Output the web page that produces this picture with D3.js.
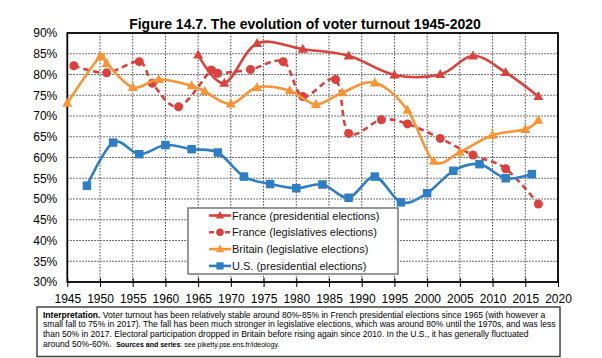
<!DOCTYPE html>
<html>
<head>
<meta charset="utf-8">
<script src="https://cdn.jsdelivr.net/npm/d3@7/dist/d3.min.js"></script>
<style>
  html, body { margin: 0; padding: 0; background: #fff; }
  svg { display: block; font-family: Arial, "Liberation Sans", sans-serif; }
</style>
</head>
<body>
<svg id="chart" width="602" height="358"></svg>
<script>
// ---- Data ----
const xTickLabels = [1945,1950,1955,1960,1965,1970,1975,1980,1985,1990,1995,2000,2005,2010,2015,2020];
const yTickLabels = [30,35,40,45,50,55,60,65,70,75,80,85,90];

const frPresYears = [1965,1969,1974,1981,1988,1995,2002,2007,2012,2017];
const frPresValues = [84.7,77.9,87.5,86.1,84.5,79.9,80.0,84.5,80.5,74.7];

const frLegYears = [1946,1951,1956,1958,1962,1967,1968,1973,1978,1981,1986,1988,1993,1997,2002,2007,2012,2017];
const frLegValues = [82.1,80.4,83.1,77.9,72.2,81.1,80.3,81.2,83.1,74.7,78.8,65.8,69.1,68.1,64.6,60.6,57.3,48.8];

const britYears = [1945,1950,1951,1955,1959,1964,1966,1970,1974,1979,1983,1987,1992,1997,2001,2005,2010,2015,2017];
const britValues = [73.1,84.3,82.7,76.9,78.8,77.3,75.9,72.9,76.9,76.1,72.8,75.6,78.0,71.4,59.1,61.3,65.4,66.8,69.0];

const usYears = [1948,1952,1956,1960,1964,1968,1972,1976,1980,1984,1988,1992,1996,2000,2004,2008,2012,2016];
const usValues = [53.2,63.6,60.8,63.0,62.0,61.2,55.4,53.6,52.6,53.5,50.3,55.4,49.2,51.4,56.8,58.4,55.0,56.0];

const seriesNames = ["France (presidential elections)","France (legislatives elections)","Britain (legislative elections)","U.S. (presidential elections)"];
const colors = ["#D8433E","#D8433E","#FA9436","#2F7EC2"];

const title = "Figure 14.7. The evolution of voter turnout 1945-2020";

// ---- Build ----
const series = [
  {name: seriesNames[0], years: frPresYears, values: frPresValues, color: colors[0], marker: "triangle", dash: null},
  {name: seriesNames[1], years: frLegYears, values: frLegValues, color: colors[1], marker: "circle", dash: "6,4"},
  {name: seriesNames[2], years: britYears, values: britValues, color: colors[2], marker: "triangle", dash: null},
  {name: seriesNames[3], years: usYears, values: usValues, color: colors[3], marker: "square", dash: null}
];

const svg = d3.select("#chart");
const L = 67.3, R = 558, T = 33, B = 282;
const x = d3.scaleLinear().domain([1945, 2020]).range([L, R]);
const y = d3.scaleLinear().domain([30, 90]).range([B, T]);

// title
svg.append("text").attr("x", 305).attr("y", 28.5).attr("text-anchor", "middle")
  .attr("font-size", 14).attr("font-weight", "bold").attr("fill", "#000").text(title);

// grid
const grid = svg.append("g");
grid.selectAll("line.v").data(xTickLabels.filter(d => d > 1945 && d < 2020)).join("line")
  .attr("x1", d => x(d)).attr("x2", d => x(d)).attr("y1", T).attr("y2", B)
  .attr("stroke", "#444").attr("stroke-width", 1).attr("stroke-dasharray", "1.5,1.5");
grid.selectAll("line.h").data(yTickLabels.filter(d => d > 30 && d < 90)).join("line")
  .attr("x1", L).attr("x2", R).attr("y1", d => y(d)).attr("y2", d => y(d))
  .attr("stroke", "#444").attr("stroke-width", 1).attr("stroke-dasharray", "1.5,1.5");

// axes
const xAxis = d3.axisBottom(x).tickValues(xTickLabels).tickFormat(d3.format("d")).tickSize(5).tickPadding(7);
const gx = svg.append("g").attr("transform", `translate(0,${B})`).call(xAxis);
gx.select(".domain").remove();
gx.selectAll("line").attr("stroke", "#000").attr("y1", -4);
gx.selectAll("text").attr("font-size", 12).attr("fill", "#000").attr("font-family", "Arial, 'Liberation Sans', sans-serif");

const yAxis = d3.axisLeft(y).tickValues(yTickLabels).tickFormat(d => d + "%").tickSize(0).tickPadding(10);
const gy = svg.append("g").attr("transform", `translate(${L},0)`).call(yAxis);
gy.select(".domain").remove();
gy.selectAll("text").attr("font-size", 12).attr("fill", "#000").attr("font-family", "Arial, 'Liberation Sans', sans-serif");

// frame
svg.append("rect").attr("x", L).attr("y", T).attr("width", R - L).attr("height", B - T)
  .attr("fill", "none").attr("stroke", "#000").attr("stroke-width", 1.8);

// markers
function drawMarker(g, type, cx, cy, color, s) {
  if (type === "triangle") {
    const h = s * 0.9;
    g.append("path").attr("d", `M${cx},${cy - h*0.6} L${cx + s/2},${cy + h*0.4} L${cx - s/2},${cy + h*0.4} Z`).attr("fill", color);
  } else if (type === "circle") {
    g.append("circle").attr("cx", cx).attr("cy", cy).attr("r", s/2).attr("fill", color);
  } else {
    g.append("rect").attr("x", cx - s/2).attr("y", cy - s/2).attr("width", s).attr("height", s).attr("fill", color);
  }
}
const markerSize = {triangle: 10, circle: 9, square: 8.5};

const line = d3.line().x(d => x(d[0])).y(d => y(d[1])).curve(d3.curveCardinal.tension(0));
series.forEach(s => {
  const pts = s.years.map((yr, i) => [yr, s.values[i]]);
  const g = svg.append("g");
  g.append("path").attr("d", line(pts)).attr("fill", "none").attr("stroke", s.color)
    .attr("stroke-width", 2.6).attr("stroke-dasharray", s.dash);
  pts.forEach(p => drawMarker(g, s.marker, x(p[0]), y(p[1]), s.color, markerSize[s.marker]));
});

// legend
const lg = svg.append("g");
lg.append("rect").attr("x", 188).attr("y", 208).attr("width", 210).attr("height", 66)
  .attr("fill", "#fff").attr("stroke", "#777").attr("stroke-width", 1.5);
series.forEach((s, i) => {
  const cy = 215.5 + i * 16.8;
  lg.append("line").attr("x1", 209).attr("x2", 231).attr("y1", cy).attr("y2", cy)
    .attr("stroke", s.color).attr("stroke-width", 2.6).attr("stroke-dasharray", s.dash ? "5,3" : null);
  drawMarker(lg, s.marker, 220, cy, s.color, markerSize[s.marker] * 0.85);
  lg.append("text").attr("x", 232).attr("y", cy + 4).attr("font-size", 11).attr("fill", "#111").text(s.name);
});

// interpretation box
const ib = svg.append("g");
ib.append("rect").attr("x", 37).attr("y", 307).attr("width", 523).attr("height", 49.5)
  .attr("fill", "#fff").attr("stroke", "#444").attr("stroke-width", 1.5);
const fs = 8.55;
const lines = [
  [["Interpretation.", true, fs], [" Voter turnout has been relatively stable around 80%-85% in French presidential elections since 1965 (with however a", false, fs]],
  [["small fall to 75% in 2017). The fall has been much stronger in legislative elections, which was around 80% until the 1970s, and was less", false, fs]],
  [["than 50% in 2017. Electoral participation dropped in Britain before rising again since 2010. In the U.S., it has generally fluctuated", false, fs]],
  [["around 50%-60%.  ", false, fs], ["Sources and series", true, 7], [": see piketty.pse.ens.fr/ideology.", false, 7]]
];
lines.forEach((ln, i) => {
  const t = ib.append("text").attr("x", 43).attr("y", 317.5 + i * 9.7).attr("fill", "#000").attr("xml:space", "preserve");
  ln.forEach(seg => {
    t.append("tspan").attr("font-weight", seg[1] ? "bold" : "normal").attr("font-size", seg[2]).text(seg[0]);
  });
});
</script>
</body>
</html>
